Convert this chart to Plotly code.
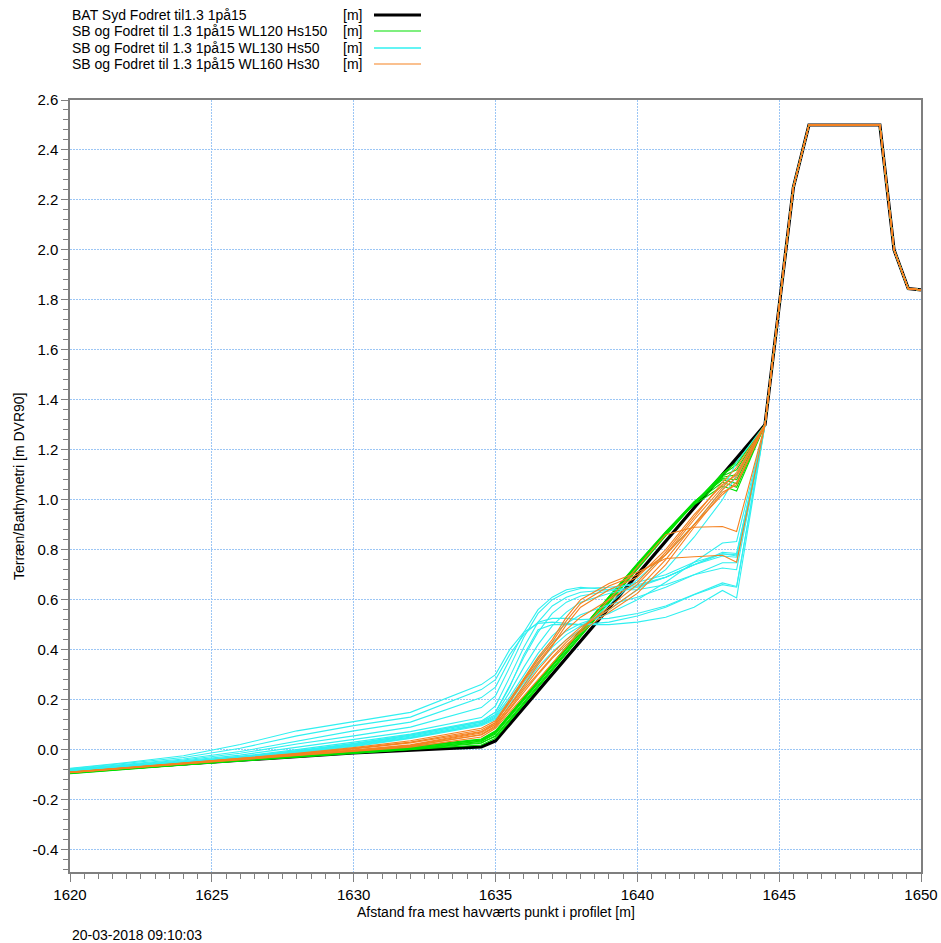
import plotly.graph_objects as go

# ---------------- data ----------------
X_SB = [1620, 1622, 1624, 1626, 1628, 1630, 1632, 1634.5, 1635, 1635.5, 1636, 1636.5,
        1637, 1637.5, 1638, 1639, 1640, 1641, 1642, 1643, 1643.5, 1644.5]
X_TAIL = [1645.5, 1646.05, 1648.55, 1649.05, 1649.55, 1650]
Y_TAIL = [2.25, 2.50, 2.50, 2.00, 1.845, 1.84]

X_BAT = [1620, 1625, 1630, 1634.5, 1635, 1644.5]
Y_BAT = [-0.087, -0.051, -0.013, 0.011, 0.035, 1.30]

GREEN = [
    [-0.090, -0.075, -0.061, -0.046, -0.032, -0.017, -0.003, 0.018, 0.045, 0.112, 0.180, 0.248, 0.316, 0.384, 0.452, 0.587, 0.722, 0.855, 0.985, 1.105, 1.150, 1.30],
    [-0.092, -0.076, -0.061, -0.045, -0.030, -0.014, 0.001, 0.025, 0.055, 0.122, 0.190, 0.258, 0.326, 0.394, 0.462, 0.598, 0.732, 0.862, 0.988, 1.095, 1.120, 1.30],
    [-0.094, -0.077, -0.060, -0.044, -0.027, -0.011, 0.005, 0.032, 0.062, 0.130, 0.198, 0.266, 0.334, 0.402, 0.470, 0.604, 0.738, 0.866, 0.985, 1.085, 1.080, 1.30],
    [-0.096, -0.078, -0.060, -0.042, -0.025, -0.008, 0.009, 0.038, 0.070, 0.138, 0.206, 0.274, 0.342, 0.410, 0.476, 0.610, 0.742, 0.870, 0.985, 1.070, 1.050, 1.30],
    [-0.095, -0.077, -0.059, -0.041, -0.023, -0.006, 0.012, 0.042, 0.075, 0.142, 0.210, 0.278, 0.346, 0.413, 0.478, 0.612, 0.742, 0.868, 0.980, 1.055, 1.035, 1.30],
    [-0.093, -0.077, -0.061, -0.045, -0.029, -0.013, 0.003, 0.028, 0.052, 0.118, 0.185, 0.252, 0.320, 0.388, 0.456, 0.590, 0.726, 0.858, 0.985, 1.100, 1.140, 1.30],
    [-0.091, -0.076, -0.060, -0.044, -0.028, -0.012, 0.004, 0.034, 0.066, 0.134, 0.202, 0.270, 0.338, 0.406, 0.472, 0.607, 0.740, 0.868, 0.990, 1.090, 1.100, 1.30],
    [-0.097, -0.079, -0.061, -0.043, -0.026, -0.009, 0.008, 0.040, 0.072, 0.140, 0.208, 0.276, 0.344, 0.412, 0.478, 0.612, 0.745, 0.872, 0.992, 1.080, 1.065, 1.30],
]

CYAN = [
    [-0.075, -0.052, -0.025, 0.020, 0.075, 0.113, 0.149, 0.260, 0.300, 0.400, 0.470, 0.505, 0.510, 0.505, 0.500, 0.500, 0.510, 0.530, 0.570, 0.637, 0.607, 1.30],
    [-0.077, -0.056, -0.032, 0.005, 0.055, 0.096, 0.130, 0.240, 0.280, 0.380, 0.460, 0.510, 0.525, 0.525, 0.520, 0.525, 0.545, 0.575, 0.620, 0.667, 0.653, 1.30],
    [-0.079, -0.060, -0.038, -0.008, 0.035, 0.075, 0.110, 0.208, 0.250, 0.360, 0.470, 0.560, 0.610, 0.640, 0.650, 0.640, 0.640, 0.660, 0.700, 0.727, 0.720, 1.30],
    [-0.080, -0.062, -0.042, -0.015, 0.022, 0.055, 0.090, 0.168, 0.215, 0.330, 0.450, 0.545, 0.600, 0.630, 0.645, 0.650, 0.660, 0.690, 0.740, 0.784, 0.780, 1.30],
    [-0.081, -0.064, -0.045, -0.022, 0.010, 0.040, 0.072, 0.128, 0.175, 0.290, 0.410, 0.510, 0.575, 0.610, 0.630, 0.640, 0.670, 0.700, 0.750, 0.784, 0.775, 1.30],
    [-0.082, -0.066, -0.048, -0.027, 0.000, 0.030, 0.062, 0.115, 0.150, 0.255, 0.370, 0.470, 0.545, 0.590, 0.615, 0.635, 0.655, 0.690, 0.740, 0.775, 0.770, 1.30],
    [-0.083, -0.067, -0.049, -0.029, -0.004, 0.025, 0.058, 0.110, 0.140, 0.230, 0.330, 0.420, 0.495, 0.550, 0.590, 0.625, 0.650, 0.690, 0.740, 0.790, 0.785, 1.30],
    [-0.084, -0.068, -0.051, -0.031, -0.008, 0.020, 0.054, 0.105, 0.135, 0.210, 0.300, 0.385, 0.455, 0.505, 0.540, 0.580, 0.610, 0.650, 0.700, 0.748, 0.748, 1.30],
    [-0.084, -0.069, -0.052, -0.033, -0.010, 0.018, 0.050, 0.100, 0.130, 0.200, 0.285, 0.365, 0.430, 0.475, 0.505, 0.545, 0.600, 0.670, 0.750, 0.827, 0.833, 1.30],
    [-0.085, -0.070, -0.053, -0.034, -0.012, 0.015, 0.047, 0.100, 0.125, 0.190, 0.270, 0.345, 0.410, 0.460, 0.495, 0.560, 0.640, 0.720, 0.850, 1.000, 1.100, 1.30],
    [-0.086, -0.070, -0.054, -0.035, -0.014, 0.012, 0.045, 0.095, 0.120, 0.180, 0.255, 0.330, 0.390, 0.440, 0.480, 0.580, 0.680, 0.780, 0.900, 1.040, 1.150, 1.30],
    [-0.083, -0.067, -0.050, -0.030, -0.006, 0.022, 0.058, 0.112, 0.150, 0.250, 0.380, 0.480, 0.500, 0.500, 0.500, 0.510, 0.535, 0.570, 0.620, 0.660, 0.650, 1.30],
]

ORANGE = [
    [-0.090, -0.072, -0.054, -0.035, -0.015, 0.008, 0.035, 0.085, 0.115, 0.200, 0.290, 0.370, 0.440, 0.530, 0.600, 0.665, 0.710, 0.765, 0.772, 0.778, 0.750, 1.30],
    [-0.091, -0.073, -0.055, -0.036, -0.017, 0.005, 0.030, 0.078, 0.108, 0.190, 0.280, 0.360, 0.430, 0.515, 0.585, 0.655, 0.700, 0.780, 0.900, 1.020, 1.070, 1.30],
    [-0.092, -0.074, -0.056, -0.037, -0.018, 0.003, 0.027, 0.072, 0.100, 0.175, 0.260, 0.340, 0.415, 0.500, 0.570, 0.640, 0.690, 0.800, 0.940, 1.060, 1.100, 1.30],
    [-0.092, -0.075, -0.058, -0.041, -0.025, -0.008, 0.010, 0.050, 0.085, 0.150, 0.215, 0.280, 0.345, 0.410, 0.475, 0.600, 0.730, 0.860, 0.890, 0.893, 0.873, 1.30],
    [-0.091, -0.074, -0.057, -0.040, -0.023, -0.005, 0.014, 0.060, 0.095, 0.165, 0.240, 0.305, 0.370, 0.430, 0.480, 0.570, 0.660, 0.780, 0.920, 1.050, 1.110, 1.30],
    [-0.090, -0.073, -0.056, -0.039, -0.021, -0.003, 0.017, 0.066, 0.102, 0.175, 0.250, 0.320, 0.385, 0.440, 0.490, 0.560, 0.640, 0.760, 0.900, 1.040, 1.090, 1.30],
    [-0.093, -0.075, -0.058, -0.040, -0.022, -0.004, 0.015, 0.058, 0.090, 0.160, 0.230, 0.300, 0.365, 0.420, 0.470, 0.550, 0.625, 0.740, 0.890, 1.030, 1.060, 1.30],
    [-0.092, -0.074, -0.057, -0.039, -0.021, -0.002, 0.019, 0.070, 0.108, 0.190, 0.275, 0.350, 0.420, 0.480, 0.530, 0.600, 0.670, 0.790, 0.930, 1.070, 1.130, 1.30],
]

LEGEND_NAMES = ["BAT Syd Fodret til1.3 1på15",
                "SB og Fodret til 1.3 1på15 WL120 Hs150",
                "SB og Fodret til 1.3 1på15 WL130 Hs50",
                "SB og Fodret til 1.3 1på15 WL160 Hs30"]
LEGEND_UNIT = "[m]"
Y_TICKS = [-0.4, -0.2, 0.0, 0.2, 0.4, 0.6, 0.8, 1.0, 1.2, 1.4, 1.6, 1.8, 2.0, 2.2, 2.4, 2.6]
X_TICKS = [1620, 1625, 1630, 1635, 1640, 1645, 1650]
X_TITLE = "Afstand fra mest havværts punkt i profilet [m]"
Y_TITLE = "Terræn/Bathymetri [m DVR90]"
TIMESTAMP = "20-03-2018 09:10:03"

# ---------------- styles ----------------
C_BLACK = "#000000"
C_GREEN = "#00e000"
C_CYAN = "#30f0f0"
C_ORANGE = "#f58220"
C_GRID = "#9cc6f5"
FONT = "Liberation Sans, Arial, sans-serif"

fig = go.Figure()

fig.add_trace(go.Scatter(x=X_BAT + X_TAIL, y=Y_BAT + Y_TAIL, mode="lines",
                         line=dict(color=C_BLACK, width=3.2), showlegend=False,
                         hoverinfo="skip"))
for ys in GREEN:
    fig.add_trace(go.Scatter(x=X_SB + X_TAIL, y=ys + Y_TAIL, mode="lines",
                             line=dict(color=C_GREEN, width=1.1), showlegend=False,
                             hoverinfo="skip"))
for ys in CYAN:
    fig.add_trace(go.Scatter(x=X_SB + X_TAIL, y=ys + Y_TAIL, mode="lines",
                             line=dict(color=C_CYAN, width=1.1), showlegend=False,
                             hoverinfo="skip"))
for ys in ORANGE:
    fig.add_trace(go.Scatter(x=X_SB + X_TAIL, y=ys + Y_TAIL, mode="lines",
                             line=dict(color=C_ORANGE, width=1.1), showlegend=False,
                             hoverinfo="skip"))

W, H = 941, 943
L, R, T, B = 70, 20, 100, 71
PW = W - L - R
PH = H - T - B

axis_common = dict(
    showline=True, linecolor="#7f7f7f", linewidth=1.5, mirror=True,
    ticks="outside", tickcolor="#7f7f7f", tickwidth=1,
    showgrid=True, gridcolor=C_GRID, griddash="2px,1px", gridwidth=1,
    zeroline=False, automargin=False,
    tickfont=dict(family=FONT, size=15, color="#000000"),
)

fig.update_xaxes(
    range=[1620, 1650], tickmode="array", tickvals=X_TICKS,
    ticktext=[str(v) for v in X_TICKS], ticklen=8,
    minor=dict(dtick=0.5, tick0=1620, ticks="outside", ticklen=5,
               tickcolor="#7f7f7f", showgrid=False),
    **axis_common,
)
fig.update_yaxes(
    range=[-0.49, 2.6], tickmode="array", tickvals=Y_TICKS,
    ticktext=[f"{v:.1f}" for v in Y_TICKS], ticklen=7,
    minor=dict(dtick=0.04, tick0=0, ticks="outside", ticklen=5,
               tickcolor="#7f7f7f", showgrid=False),
    **axis_common,
)

annotations = []
shapes = []
legend_colors = [C_BLACK, C_GREEN, C_CYAN, C_ORANGE]
legend_widths = [3, 1.2, 1.6, 1.2]
row_y = [15, 31, 48, 64]


def px_x(p):
    return (p - L) / PW


for name, col, lw, yy in zip(LEGEND_NAMES, legend_colors, legend_widths, row_y):
    yp = 1 + (T - yy) / PH
    annotations.append(dict(xref="paper", yref="paper", x=px_x(70), y=yp,
                            xanchor="left", yanchor="middle", text=name, showarrow=False,
                            font=dict(family=FONT, size=14, color="#000000")))
    annotations.append(dict(xref="paper", yref="paper", x=px_x(341), y=yp,
                            xanchor="left", yanchor="middle", text=LEGEND_UNIT, showarrow=False,
                            font=dict(family=FONT, size=14, color="#000000")))
    shapes.append(dict(type="line", xref="paper", yref="paper",
                       x0=px_x(374), x1=px_x(421), y0=yp, y1=yp,
                       line=dict(color=col, width=lw)))

annotations.append(dict(xref="paper", yref="paper", x=0.5, y=-(912 - (H - B)) / PH,
                        xanchor="center", yanchor="middle", text=X_TITLE, showarrow=False,
                        font=dict(family=FONT, size=14, color="#000000")))
annotations.append(dict(xref="paper", yref="paper", x=px_x(19), y=0.5,
                        xanchor="center", yanchor="middle", text=Y_TITLE, showarrow=False,
                        textangle=-90, font=dict(family=FONT, size=14, color="#000000")))
annotations.append(dict(xref="paper", yref="paper", x=0, y=-(935 - (H - B)) / PH,
                        xanchor="left", yanchor="middle", text=TIMESTAMP, showarrow=False,
                        font=dict(family=FONT, size=14, color="#000000")))

fig.update_layout(
    width=W, height=H,
    margin=dict(l=L, r=R, t=T, b=B, autoexpand=False),
    paper_bgcolor="white", plot_bgcolor="white",
    showlegend=False,
    annotations=annotations, shapes=shapes,
)

fig.write_html("out.html")
